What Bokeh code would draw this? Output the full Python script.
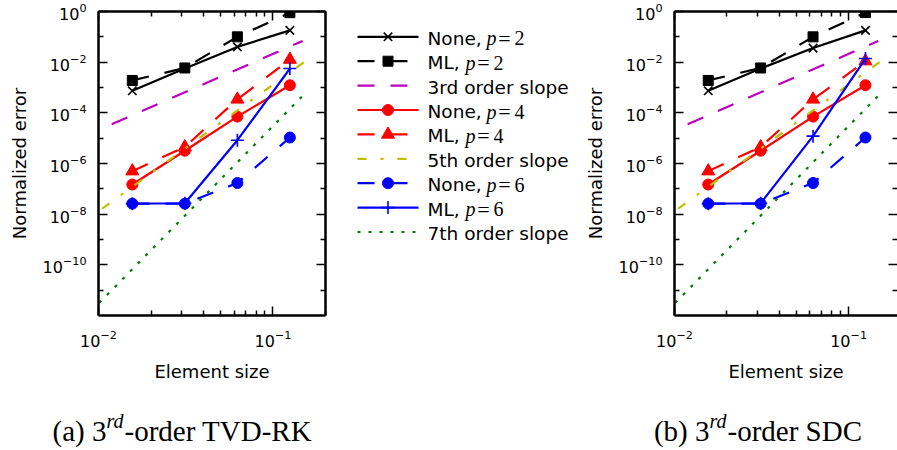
from bokeh.plotting import figure
from bokeh.models import Range1d, FixedTicker, LogAxis, LogTickFormatter
from bokeh.layouts import row, column
from bokeh.embed import file_html
from bokeh.resources import INLINE
from bokeh.core.properties import value

# ---------------- data ----------------
h = [0.015625, 0.03125, 0.0625, 0.125]

# (a) 3rd-order TVD-RK
a_none_p2 = [7.4e-4, 5.6e-3, 0.040, 0.18]
a_ml_p2 = [1.9e-3, 5.9e-3, 0.10, 0.90]
a_none_p4 = [1.48e-7, 3.2e-6, 7.1e-5, 1.23e-3]
a_ml_p4 = [5.0e-7, 4.5e-6, 3.4e-4, 1.27e-2]
a_none_p6 = [2.6e-8, 2.6e-8, 1.7e-7, 1.06e-5]
a_ml_p6 = [2.6e-8, 2.7e-8, 8.3e-6, 5.6e-3]

# (b) 3rd-order SDC
b_none_p2 = [7.4e-4, 5.6e-3, 0.036, 0.18]
b_ml_p2 = [1.9e-3, 5.9e-3, 0.10, 0.91]
b_none_p4 = [1.48e-7, 3.2e-6, 7.1e-5, 1.23e-3]
b_ml_p4 = [5.0e-7, 4.5e-6, 3.4e-4, 1.1e-2]
b_none_p6 = [2.6e-8, 2.6e-8, 1.7e-7, 1.06e-5]
b_ml_p6 = [2.6e-8, 2.7e-8, 1.2e-5, 1.39e-2]

# reference slopes
slope3_h = [0.0119, 0.148]
slope3_e = [3.55e-5, 0.069]
slope5_h = [0.0105, 0.151]
slope5_e = [1.66e-8, 0.0102]
slope7_h = [0.0101, 0.148]
slope7_e = [3.16e-12, 4.7e-4]

legend_prefix = ["None, ", "ML, ", "3rd order slope", "None, ", "ML, ",
                 "5th order slope", "None, ", "ML, ", "7th order slope"]
legend_p = ["2", "2", "", "4", "4", "", "6", "6", ""]

x_major_ticks = [0.01, 0.1]
x_minor_ticks = [0.02, 0.03, 0.04, 0.05, 0.06, 0.07, 0.08, 0.09, 0.2]
y_major_ticks = [1e-10, 1e-8, 1e-6, 1e-4, 1e-2, 1.0]
y_minor_ticks = [1e-11, 1e-9, 1e-7, 1e-5, 1e-3, 1e-1]

captions_left = ["(a) 3", "(b) 3"]
captions_sup = ["rd", "rd"]
captions_right = ["-order TVD-RK", "-order SDC"]

# ---------------- styles ----------------
K, M, R, Y, B, G = "#000000", "#bf00bf", "#ff0000", "#bfbf00", "#0000ff", "#008000"
DASH = "17 16"
styles = [
    dict(color=K, dash="solid", marker="x", size=12),
    dict(color=K, dash=DASH, marker="square", size=10),
    dict(color=M, dash=DASH, marker=None, size=0),
    dict(color=R, dash="solid", marker="circle", size=11),
    dict(color=R, dash=DASH, marker="triangle", size=13),
    dict(color=Y, dash="9 14 3 14", marker=None, size=0),
    dict(color=B, dash=DASH, marker="circle", size=11),
    dict(color=B, dash="solid", marker="cross", size=13),
    dict(color=G, dash="3 8", marker=None, size=0),
]
LW = 2.2


def draw(fig, xs, ys, st):
    fig.line(xs, ys, line_color=st["color"], line_width=LW, line_dash=st["dash"])
    if st["marker"]:
        filled = st["marker"] in ("square", "circle", "triangle")
        fig.scatter(xs, ys, marker=st["marker"], size=st["size"],
                    fill_color=st["color"] if filled else None,
                    line_color=st["color"], line_width=1.0 if filled else 1.6)


def style_axis(ax, major_in, minor_in, labels, line):
    ax.major_tick_in = major_in
    ax.major_tick_out = 0
    ax.minor_tick_in = minor_in
    ax.minor_tick_out = 0
    ax.major_tick_line_width = 1.5
    ax.minor_tick_line_width = 1.5
    ax.major_tick_line_color = "black"
    ax.minor_tick_line_color = "black"
    if line:
        ax.axis_line_color = "black"
        ax.axis_line_width = 2.5
    else:
        ax.axis_line_color = None
    if labels:
        ax.major_label_text_font = "DejaVu Sans"
        ax.major_label_text_font_size = "16px"
        ax.major_label_text_color = "black"
    else:
        ax.major_label_text_font_size = "1px"
        ax.major_label_text_color = None
        ax.major_label_standoff = 0


def make_plot(series, width, bl, br, x_end, right_line):
    p = figure(width=width, height=400, x_axis_type="log", y_axis_type="log",
               x_range=Range1d(0.01, x_end), y_range=Range1d(1e-12, 1.0),
               output_backend="svg", toolbar_location=None,
               min_border_left=bl, min_border_right=br,
               min_border_top=11, min_border_bottom=85)
    p.grid.visible = False
    p.outline_line_color = None
    p.background_fill_color = "white"
    p.border_fill_color = "white"

    xt = FixedTicker(ticks=x_major_ticks, minor_ticks=x_minor_ticks)
    yt = FixedTicker(ticks=y_major_ticks, minor_ticks=y_minor_ticks)

    xa = p.xaxis[0]
    xa.ticker = xt
    style_axis(xa, 9, 5, True, True)
    xa.major_label_standoff = 14
    xa.axis_label = "Element size"
    xa.axis_label_text_font = "DejaVu Sans"
    xa.axis_label_text_font_size = "18px"
    xa.axis_label_text_font_style = "normal"
    xa.axis_label_text_color = "black"
    xa.axis_label_standoff = 11

    ya = p.yaxis[0]
    ya.ticker = yt
    style_axis(ya, 9, 5, True, True)
    ya.major_label_standoff = 12
    ya.axis_label = "Normalized error"
    ya.axis_label_text_font = "DejaVu Sans"
    ya.axis_label_text_font_size = "18px"
    ya.axis_label_text_font_style = "normal"
    ya.axis_label_text_color = "black"
    ya.axis_label_standoff = 10

    top = LogAxis(ticker=xt, formatter=LogTickFormatter())
    style_axis(top, 9, 5, False, True)
    p.add_layout(top, "above")
    rgt = LogAxis(ticker=yt, formatter=LogTickFormatter())
    style_axis(rgt, 9, 5, False, right_line)
    p.add_layout(rgt, "right")

    for (xs, ys), st in zip(series, styles):
        draw(p, xs, ys, st)
    return p


series_a = [(h, a_none_p2), (h, a_ml_p2), (slope3_h, slope3_e),
            (h, a_none_p4), (h, a_ml_p4), (slope5_h, slope5_e),
            (h, a_none_p6), (h, a_ml_p6), (slope7_h, slope7_e)]
series_b = [(h, b_none_p2), (h, b_ml_p2), (slope3_h, slope3_e),
            (h, b_none_p4), (h, b_ml_p4), (slope5_h, slope5_e),
            (h, b_none_p6), (h, b_ml_p6), (slope7_h, slope7_e)]

left = make_plot(series_a, 340, 98, 15, 0.2, True)
right = make_plot(series_b, 321, 98, 0, 0.191, False)

# ---------------- legend (between the panels) ----------------
LGW = 236
lg = figure(width=LGW, height=400, x_range=Range1d(0, LGW), y_range=Range1d(400, 0),
            output_backend="svg", toolbar_location=None, min_border=0,
            x_axis_location=None, y_axis_location=None)
lg.grid.visible = False
lg.outline_line_color = None
row_y0, row_dy = 33.3, 32.1
for i, st in enumerate(styles):
    yy = row_y0 + row_dy * i
    draw(lg, [17, 78], [yy, yy], dict(st, marker=None))
    if st["marker"]:
        filled = st["marker"] in ("square", "circle", "triangle")
        lg.scatter([47.5], [yy], marker=st["marker"], size=st["size"],
                   fill_color=st["color"] if filled else None,
                   line_color=st["color"], line_width=1.0 if filled else 1.6)

text_y = [row_y0 + row_dy * i + 2 for i in range(len(legend_prefix))]
lg.text(x=[87] * len(legend_prefix), y=text_y, text=legend_prefix,
        text_font=value("DejaVu Sans"), text_font_size="18.5px",
        text_baseline="middle", text_align="left", text_color="black")
p_x, p_y, p_t, eq_x, eq_y, n_x, n_y, n_t = [], [], [], [], [], [], [], []
for i, (pre, pv) in enumerate(zip(legend_prefix, legend_p)):
    if not pv:
        continue
    off = 87 + (59 if pre.startswith("None") else 38)
    p_x.append(off); p_y.append(text_y[i]); p_t.append("p")
    eq_x.append(off + 18); eq_y.append(text_y[i])
    n_x.append(off + 28); n_y.append(text_y[i]); n_t.append(pv)
lg.text(x=p_x, y=p_y, text=p_t, text_font=value("Liberation Serif"),
        text_font_style="italic", text_font_size="20px",
        text_baseline="middle", text_align="left", text_color="black")
lg.text(x=eq_x, y=eq_y, text=["="] * len(eq_x), text_font=value("Liberation Serif"),
        text_font_size="22px", text_baseline="middle", text_align="center",
        text_color="black")
lg.text(x=n_x, y=n_y, text=n_t, text_font=value("Liberation Serif"),
        text_font_size="20px", text_baseline="middle", text_align="left",
        text_color="black")

# ---------------- captions ----------------
cap = figure(width=897, height=50, x_range=Range1d(0, 897), y_range=Range1d(50, 0),
             output_backend="svg", toolbar_location=None, min_border=0,
             x_axis_location=None, y_axis_location=None)
cap.grid.visible = False
cap.outline_line_color = None
anchor = [106, 709]
cap.text(x=anchor, y=[30, 30], text=captions_left, text_font=value("Liberation Serif"),
         text_font_size="29px", text_align="right", text_baseline="middle",
         text_color="black")
cap.text(x=anchor, y=[20, 20], text=captions_sup, text_font=value("Liberation Serif"),
         text_font_style="italic", text_font_size="20px", text_align="left",
         text_baseline="middle", text_color="black")
cap.text(x=[a + 18 for a in anchor], y=[30, 30], text=captions_right,
         text_font=value("Liberation Serif"), text_font_size="29px",
         text_align="left", text_baseline="middle", text_color="black")

layout = column(row(left, lg, right), cap)
open("out.html", "w").write(file_html(layout, INLINE))
